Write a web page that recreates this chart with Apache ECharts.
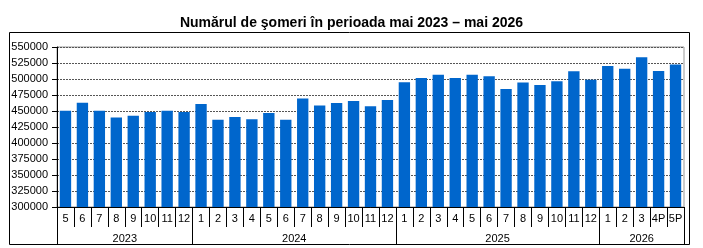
<!DOCTYPE html>
<html><head><meta charset="utf-8">
<script src="https://cdn.jsdelivr.net/npm/echarts@6/dist/echarts.min.js"></script>
<style>html,body{margin:0;padding:0;background:#fff}#c{width:703px;height:248px}</style>
</head><body><div id="c"></div>
<script>
var monthLabels = ['5','6','7','8','9','10','11','12','1','2','3','4','5','6','7','8','9','10','11','12','1','2','3','4','5','6','7','8','9','10','11','12','1','2','3','4P','5P'];
var years = ['2023','2024','2025','2026'];
var yearCounts = [8, 12, 12, 5];
var values = [450500,463000,450500,440000,442500,448500,450500,448500,461000,436500,440500,437000,447000,436500,469500,458500,462500,465500,457500,467000,495000,501500,506500,501500,506800,504200,484500,494500,490500,496500,512000,499000,520300,516000,534000,512500,522500];
var yTicks = {min:300000, max:550000, step:25000};

var yearCenters = [], yearBounds = [0], acc = 0;
for (var i = 0; i < yearCounts.length; i++) { yearCenters.push(acc + yearCounts[i]/2); acc += yearCounts[i]; yearBounds.push(acc); }
var F = 'Liberation Sans, Arial, sans-serif';
var chart = echarts.init(document.getElementById('c'), null, {renderer:'canvas'});
chart.setOption({
  animation:false,
  title:{text:'Numărul de şomeri în perioada mai 2023 – mai 2026', left:'center', top:11,
    textStyle:{fontFamily:F, fontSize:14, fontWeight:'bold', color:'#000'}},
  grid:{left:57, right:19, top:47, bottom:41, show:true, borderColor:'#999', borderWidth:1},
  graphic:[{type:'rect', shape:{x:9.5, y:32.5, width:680, height:212}, style:{fill:null, stroke:'#000', lineWidth:1}, z:-1}],
  xAxis:[{
    type:'category', data:monthLabels, boundaryGap:true,
    axisLine:{lineStyle:{color:'#000', width:1}},
    axisTick:{show:true, interval:0, length:20, lineStyle:{color:'#000'}},
    axisLabel:{interval:0, margin:6, fontFamily:F, fontSize:11, color:'#000'}
  },{
    type:'value', min:0, max:monthLabels.length, position:'bottom',
    axisLine:{show:false}, splitLine:{show:false},
    axisTick:{show:true, length:37, customValues:yearBounds, lineStyle:{color:'#000'}},
    axisLabel:{customValues:yearCenters, margin:26, fontFamily:F, fontSize:11, color:'#000',
      formatter:function(v){ for (var k=0;k<yearCenters.length;k++){ if (Math.abs(yearCenters[k]-v)<1e-6) return years[k]; } return ''; }}
  }],
  yAxis:{type:'value', min:yTicks.min, max:yTicks.max, interval:yTicks.step,
    axisLine:{show:true, lineStyle:{color:'#000'}},
    axisTick:{show:true, length:5, lineStyle:{color:'#000'}},
    axisLabel:{margin:9, fontFamily:F, fontSize:11, color:'#000', formatter:function(v){return String(v);}},
    splitLine:{show:true, lineStyle:{color:'#555', type:[2,1], width:1}}},
  series:[{type:'bar', data:values, xAxisIndex:0, barCategoryGap:'33%', itemStyle:{color:'#0066CC'}}]
});
</script></body></html>
